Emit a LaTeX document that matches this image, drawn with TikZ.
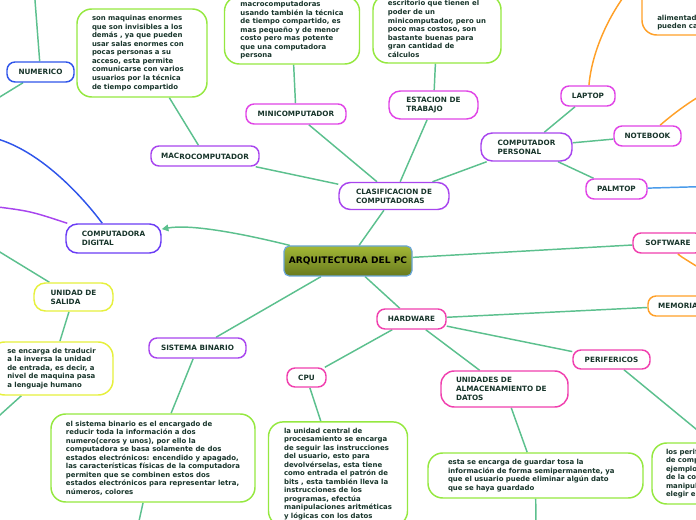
\documentclass[tikz,border=0pt]{standalone}
\usepackage{fontspec}
\setmainfont{DejaVu Sans}
\usetikzlibrary{arrows.meta}
\pgfdeclarelayer{background}
\pgfsetlayers{background,main}
\definecolor{tx}{HTML}{18352B}
\definecolor{cn}{HTML}{5CC08E}
\definecolor{lime}{HTML}{95E840}
\definecolor{purp}{HTML}{A845EE}
\definecolor{mag}{HTML}{E044E6}
\definecolor{pinkb}{HTML}{F03FAE}
\definecolor{yel}{HTML}{E6F03C}
\definecolor{orng}{HTML}{FFA028}
\definecolor{blu}{HTML}{2F55EA}
\definecolor{vio}{HTML}{6A3CF5}
\definecolor{lblue}{HTML}{4A9BEA}
\definecolor{olivea}{HTML}{A3B836}
\definecolor{oliveb}{HTML}{687A1E}
\definecolor{arqb}{HTML}{6AA6D8}
\tikzset{
 base/.style={draw, line width=1.1pt, fill=white, text=tx, font=\bfseries\fontsize{5.45pt}{6.75pt}\selectfont, inner sep=0pt, align=left},
 lab/.style={base, rounded corners=6pt},
 labtwo/.style={base, rounded corners=8.5pt},
 txtbox/.style={base, draw=lime, rounded corners=11pt, font=\bfseries\fontsize{5.2pt}{6.4pt}\selectfont},
 conn/.style={draw=cn, line width=1.1pt},
}
\begin{document}
\begin{tikzpicture}[x=0.75pt,y=-0.75pt]
\useasboundingbox (0,0) rectangle (696,520);
% central
\node[draw=arqb, line width=0.9pt, top color=olivea, bottom color=oliveb, rounded corners=4pt,
  minimum width=96pt, minimum height=22.5pt, inner sep=0pt,
  font=\bfseries\fontsize{6.8pt}{8pt}\selectfont, text=black] (arq) at (348,261) {ARQUITECTURA DEL PC};
% labels
\node[lab, draw=blu, minimum width=50.25pt, minimum height=15pt] (num) at (40.5,72) {NUMERICO};
\node[lab, draw=purp, minimum width=81pt, minimum height=15pt] (macro) at (205,156) {\raisebox{0.6pt}{MAC}ROCOMPUTADOR};
\node[labtwo, draw=purp, minimum width=82.5pt, minimum height=20.25pt] (clas) at (394,196) {CLASIFICACION DE\\COMPUTADORAS};
\node[lab, draw=mag, minimum width=75pt, minimum height=15pt] (mini) at (296,114) {MINICOMPUTADOR};
\node[labtwo, draw=mag, minimum width=66.75pt, minimum height=21pt] (est) at (433.5,105) {ESTACION DE\\TRABAJO};
\node[labtwo, draw=purp, minimum width=68.25pt, minimum height=21pt] (cp) at (526.5,147) {COMPUTADOR\\PERSONAL};
\node[lab, draw=mag, minimum width=40.5pt, minimum height=15pt] (laptop) at (588,96) {LAPTOP};
\node[lab, draw=mag, minimum width=50.25pt, minimum height=15pt] (notebook) at (647.5,136) {NOTEBOOK};
\node[lab, draw=mag, minimum width=45.75pt, minimum height=15pt] (palmtop) at (616.5,189) {PALMTOP};
\node[labtwo, draw=vio, minimum width=71.25pt, minimum height=21.75pt] (cd) at (113.5,238.5) {COMPUTADORA\\DIGITAL};
\node[labtwo, draw=yel, minimum width=59.25pt, minimum height=21pt] (us) at (73.5,297) {UNIDAD DE\\SALIDA};
\node[lab, draw=purp, minimum width=72.75pt, minimum height=15pt] (sb) at (197.5,348) {SISTEMA BINARIO};
\node[lab, draw=pinkb, minimum width=51.75pt, minimum height=15pt] (hw) at (411.5,319) {HARDWARE};
\node[lab, draw=pinkb, minimum width=29.25pt, minimum height=14.25pt] (cpu) at (306.5,377.5) {CPU};
\node[labtwo, draw=pinkb, rounded corners=10pt, minimum width=95.25pt, minimum height=27pt, text width=72.75pt] (ua) at (504.5,389) {UNIDADES DE\\ALMACENAMIENTO DE\\DATOS};
\node[lab, draw=pinkb, minimum width=57.75pt, minimum height=14.25pt] (per) at (611.5,359.5) {PERIFERICOS};
\node[lab, draw=pinkb, minimum width=52.5pt, minimum height=15pt] (sw) at (668,243) {SOFTWARE};
\node[lab, draw=orng, minimum width=45pt, minimum height=15pt] (mem) at (678,306) {MEMORIA};
% text boxes
\node[txtbox, minimum width=97.5pt, minimum height=66pt, text width=75pt] (t1) at (142,53) {son maquinas enormes\\que son invisibles a los\\demás , ya que pueden\\usar salas enormes con\\pocas personas a su\\acceso, esta permite\\comunicarse con varios\\usuarios por la técnica\\de tiempo compartido};
\node[txtbox, minimum width=101.25pt, minimum height=50.7pt] (t2) at (292,30.2) {macrocomputadoras\\usando también la técnica\\de tiempo compartido, es\\mas pequeño y de menor\\costo pero mas potente\\que una computadora\\persona};
\node[txtbox, minimum width=96pt, minimum height=51pt] (t3) at (437,29) {escritorio que tienen el\\poder de un\\minicomputador, pero un\\poco mas costoso, son\\bastante buenas para\\gran cantidad de\\cálculos};
\node[txtbox, draw=yel, minimum width=92.25pt, minimum height=39.75pt] (t4) at (51.5,368.5) {se encarga de traducir\\a la inversa la unidad\\de entrada, es decir, a\\nivel de maquina pasa\\a lenguaje humano};
\node[txtbox, minimum width=153pt, minimum height=66pt] (t5) at (153,458) {el sistema binario es el encargado de\\reducir toda la información a dos\\numero(ceros y unos), por ello la\\computadora se basa solamente de dos\\estados electrónicos: encendido y apagado,\\las características físicas de la computadora\\permiten que se combinen estos dos\\estados electrónicos para representar letra,\\números, colores};
\node[txtbox, minimum width=104.25pt, minimum height=78pt] (t6) at (338,473.9) {la unidad central de\\procesamiento se encarga\\de seguir las instrucciones\\del usuario, esto para\\devolvérselas, esta tiene\\como entrada el patrón de\\bits , esta también lleva la\\instrucciones de los\\programas, efectúa\\manipulaciones aritméticas\\y lógicas con los datos};
\node[txtbox, minimum width=161.25pt, minimum height=33.75pt, text width=131.25pt] (t7) at (535.5,475.5) {esta se encarga de guardar tosa la\\información de forma semipermanente, ya\\que el usuario puede eliminar algún dato\\que se haya guardado};
\node[txtbox, minimum width=147pt, minimum height=45.75pt, text width=126pt] (t8) at (750,473.5) {los perif\\de comp\\ejemplo\\de la co\\manipul\\elegir e};
% orange box top right
\draw[orng, line width=1.1pt, rounded corners=11pt] (642,-40) rectangle (760,35);
\node[anchor=north west, inner sep=0pt, align=left, text=tx, font=\bfseries\fontsize{5.2pt}{6.4pt}\selectfont] (alim) at (657,14.8) {alimentad\\pueden ca};
% free ends
\coordinate (numU) at (34.6,-5);
\coordinate (numL) at (-10,103);
\coordinate (usL) at (-10,246);
\coordinate (t4L) at (-10,424);
\coordinate (t5D) at (137,530);
\coordinate (t7D) at (536,530);
\coordinate (palmR) at (706,186.5);
\coordinate (lapU) at (625,-5);
\coordinate (noteR) at (705,93);
\coordinate (swR) at (706,272);
\coordinate (blueL) at (-10,137);
\coordinate (purpL) at (-10,206);
\begin{pgfonlayer}{background}
\draw[conn] (arq) -- (clas);
\draw[conn] (clas) -- (macro);
\draw[conn] (clas) -- (mini);
\draw[conn] (clas) -- (est);
\draw[conn] (clas) -- (cp);
\draw[conn] (macro) -- (t1);
\draw[conn] (mini) -- (t2);
\draw[conn] (est) -- (t3);
\draw[conn] (cp) -- (laptop);
\draw[conn] (cp) -- (notebook);
\draw[conn] (cp) -- (palmtop);
\draw[conn] (arq) -- (sw);
\draw[conn] (arq) -- (sb);
\draw[conn] (arq) -- (hw);
\draw[conn] (sb) -- (t5);
\draw[conn] (t5) -- (t5D);
\draw[conn] (hw) -- (cpu);
\draw[conn] (hw) -- (ua);
\draw[conn] (hw) -- (per);
\draw[conn] (hw) -- (mem);
\draw[conn] (cpu) -- (t6);
\draw[conn] (ua) -- (t7);
\draw[conn] (t7) -- (t7D);
\draw[conn] (per) -- (t8);
\draw[conn] (us) -- (t4);
\draw[conn] (us) -- (usL);
\draw[conn] (t4) -- (t4L);
\draw[conn] (num) -- (numU);
\draw[conn] (num) -- (numL);
\draw[lblue, line width=1.1pt] (palmtop) -- (palmR);
\draw[orng, line width=1.1pt] (laptop) .. controls (592,50) and (610,15) .. (lapU);
\draw[orng, line width=1.1pt] (notebook) .. controls (672,115) and (686,104) .. (noteR);
\draw[orng, line width=1.1pt] (sw) .. controls (680,256) .. (swR);
\draw[blu, line width=1.1pt] (blueL) .. controls (40,148) and (85,200) .. (cd);
\draw[purp, line width=1.1pt] (purpL) .. controls (30,211) .. (cd);
\end{pgfonlayer}
\draw[conn, -{Triangle[length=5pt,width=5pt]}] (arq.165) .. controls (240,233) and (190,224) .. (cd.11.5);
\end{tikzpicture}
\end{document}
